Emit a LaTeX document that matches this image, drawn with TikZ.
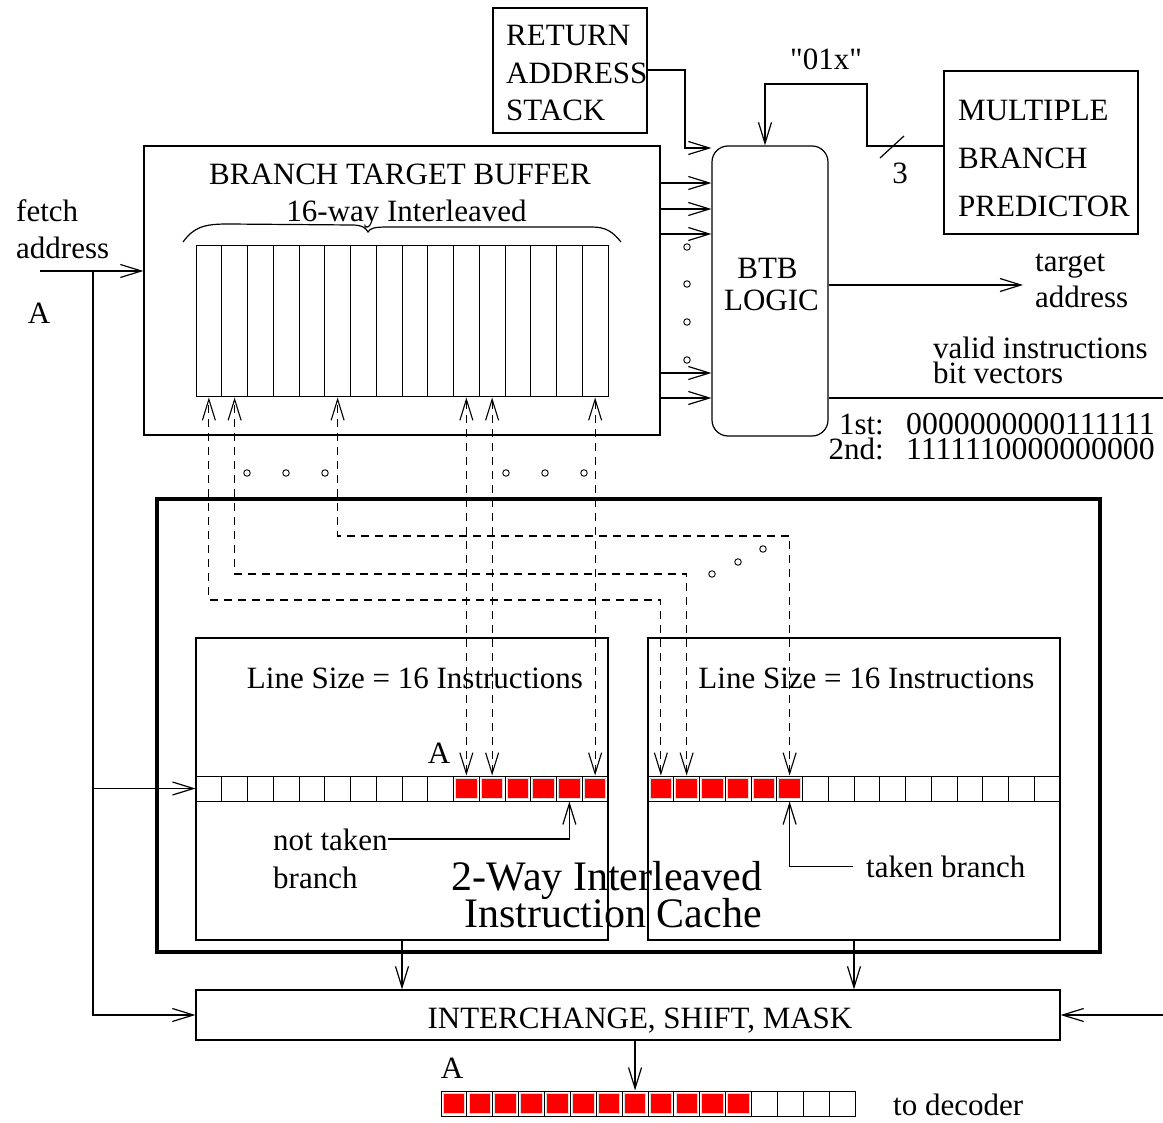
\documentclass[tikz,border=0pt]{standalone}
\usepackage{fontspec}
\setmainfont{Liberation Serif}
\newfontfamily\plainq{Liberation Serif}[Ligatures=TeXOff]
\usetikzlibrary{arrows.meta}
\newcommand\fsz{\fontsize{31}{36}\selectfont}
\newcommand\fbig{\fontsize{42}{38}\selectfont}
\newcommand\fdig{\fontsize{31.8}{36}\selectfont}
\begin{document}
\begin{tikzpicture}[x=1pt,y=-1pt,
  every node/.style={inner sep=0pt, font=\fsz},
  box/.style={draw, line width=1.2pt},
  ln/.style={line width=1.2pt},
  arr/.style={line width=1.2pt, -{Straight Barb[length=21pt,width=13pt]}},
  dsh/.style={line width=1.1pt, dash pattern=on 8pt off 6pt,
    {Straight Barb[length=21pt,width=13pt]}-{Straight Barb[length=21pt,width=13pt]}},
  cell/.style={draw, line width=1pt, minimum width=25.75pt, minimum height=25pt},
  hot/.style={fill=red, draw=black!15, line width=1pt, minimum width=21.5pt, minimum height=20.5pt},
  dot/.style={circle, draw, line width=0.9pt, minimum size=6.5pt},
]
\useasboundingbox (0,0) rectangle (1163,1123);

% ---------- boxes ----------
\node[box, minimum width=154pt, minimum height=125pt] (ras) at (570,70.5) {};
\node[anchor=base west] (t1) at (506,46) {RETURN};
\node[anchor=base west] (t2) at (506,84) {ADDRESS};
\node[anchor=base west] (t3) at (506,121) {STACK};

\node[box, minimum width=194pt, minimum height=163pt] (mbp) at (1041,152.5) {};
\node[anchor=base west] (t4) at (958,121) {MULTIPLE};
\node[anchor=base west] (t5) at (958,169) {BRANCH};
\node[anchor=base west] (t6) at (958,217) {PREDICTOR};

\node[box, minimum width=516pt, minimum height=289pt] (btb) at (402,290.5) {};
\node[anchor=base] (t7) at (400,185) {BRANCH TARGET BUFFER};
\node[anchor=base] (t8) at (406.5,222) {16-way Interleaved};

\node[box, rounded corners=16pt, minimum width=116pt, minimum height=290pt] (logic) at (770,291) {};
\node[anchor=base] (t9) at (767.5,279) {BTB};
\node[anchor=base] (t10) at (771.5,311) {LOGIC};

% banks
\foreach \i in {0,...,15}
  \node[cell, minimum height=151pt] (b\i) at ({196+25.75*(\i+0.5)},321.5) {};

% brace
\draw[ln] (183,242) .. controls (194,227) and (204,224) .. (228,224)
  -- (352,225) .. controls (362,225) and (366,228) .. (368,232)
  .. controls (370,228) and (375,227) .. (388,227)
  -- (592,227) .. controls (606,227) and (613,232) .. (621,242);

% ---------- cache ----------
\node[draw, line width=4.5pt, minimum width=943pt, minimum height=453pt] (cache) at (628.5,725.5) {};
\node[box, minimum width=412pt, minimum height=302pt] (way1) at (402,789) {};
\node[box, minimum width=412pt, minimum height=302pt] (way2) at (854,789) {};
\node[anchor=base] (t11) at (415,688) {Line Size = 16 Instructions};
\node[anchor=base] (t12) at (866.5,688) {Line Size = 16 Instructions};

\foreach \i in {0,...,15} {
  \node[cell] (p\i) at ({196+25.75*(\i+0.5)},788.5) {};
  \node[cell] (q\i) at ({648+25.75*(\i+0.5)},788.5) {};
  \node[cell, minimum width=25.875pt] (o\i) at ({441+25.875*(\i+0.5)},1103.5) {};
}
\foreach \i in {10,...,15} \node[hot] (hp\i) at (p\i) {};
\foreach \i in {0,...,5} \node[hot] (hq\i) at (q\i) {};
\foreach \i in {0,...,11} \node[hot] (ho\i) at (o\i) {};

\node[anchor=base] (a1) at (439,763) {A};
\node[anchor=base] (a2) at (452,1078) {A};
\node[anchor=base] (a3) at (39,324) {A};

\node[anchor=base west] (nt) at (273,850) {not taken};
\node[anchor=base west] (nt2) at (273,888) {branch};
\node[anchor=base west] (tb) at (866,877) {taken branch};

\node[anchor=base, font=\fbig] (c1) at (607,890) {2-Way Interleaved};
\node[anchor=base, font=\fbig] (c2) at (613,927) {Instruction Cache};

\node[box, minimum width=864pt, minimum height=50pt] (ics) at (628,1015) {};
\node[anchor=base] (t13) at (640,1028) {INTERCHANGE, SHIFT, MASK};
\node[anchor=base west] (t14) at (893,1115) {to decoder};

% ---------- labels right ----------
\node[anchor=base] (t15) at (826,70) {\plainq "01x"};
\node[anchor=base] (t16) at (900,184) {3};
\node[anchor=base west] (t17) at (1035,272) {target};
\node[anchor=base west] (t18) at (1035,308) {address};
\node[anchor=base west] (t19) at (933,359) {valid instructions};
\node[anchor=base west] (t20) at (933,384) {bit vectors};
\node[anchor=base east] (t21) at (884,435) {1st:};
\node[anchor=base west, font=\fdig] (t22) at (906,435) {0000000000111111};
\node[anchor=base east] (t23) at (884,460) {2nd:};
\node[anchor=base west, font=\fdig] (t24) at (906,460) {1111110000000000};

\node[anchor=base west] (t25) at (16,222) {fetch};
\node[anchor=base west] (t26) at (16,259) {address};

% ---------- dots ----------
\foreach \x [count=\k] in {247,286,325,506,545,584}
  \node[dot] (d\k) at (\x,473) {};
\node[dot] (e1) at (712,574) {};
\node[dot] (e2) at (738,562) {};
\node[dot] (e3) at (763,549) {};
\foreach \y [count=\k] in {247,284,322,360}
  \node[dot] (f\k) at (687,\y) {};

% ---------- connectors ----------
\coordinate (fa) at (40,271);
\coordinate (fj) at (93,271);
\draw[arr] (fa) -- (btb.west |- fa);
\draw[arr] (fj) |- (p0.west);
\draw[arr] (fj) |- (ics.west);
\coordinate (re) at (1163,1015);
\draw[arr] (re) -- (ics.east);
\draw[arr] (way1.south) -- (way1.south |- ics.north);
\draw[arr] (way2.south) -- (way2.south |- ics.north);
\draw[arr] (o7.north |- ics.south) -- (o7.north);

\foreach \y in {183,209,234,373,398}
  \draw[arr] (btb.east |- 0,\y) -- (logic.west |- 0,\y);

\draw[arr] (ras.east |- 0,70) -- (685,70) -- (685,148) -- (logic.west |- 0,148);
\draw[arr] (mbp.west |- 0,146) -- (867,146) -- (867,84) -- (765,84) -- (logic.north -| 765,0);
\draw[ln] (880,158) -- (904,136);

\coordinate (ta) at (1023,285);
\draw[arr] (logic.east |- ta) -- (ta);
\coordinate (vb) at (1163,398);
\draw[ln] (logic.east |- vb) -- (vb);

\draw[arr] (nt.east |- 0,839) -| (p14.south);
\draw[arr] ([xshift=-13pt]tb.west) -| (q5.south);

% dashed BTB <-> cache
\coordinate (k0) at (0,600);
\coordinate (k1) at (0,574);
\coordinate (k5) at (0,536);
\draw[dsh] (q0.north) -- (q0.north |- k0) -| (b0.south);
\draw[dsh] (q1.north) -- (q1.north |- k1) -| (b1.south);
\draw[dsh] (q5.north) -- (q5.north |- k5) -| (b5.south);
\draw[dsh] (p10.north) -- (b10.south);
\draw[dsh] (p11.north) -- (b11.south);
\draw[dsh] (p15.north) -- (b15.south);
\end{tikzpicture}
\end{document}
